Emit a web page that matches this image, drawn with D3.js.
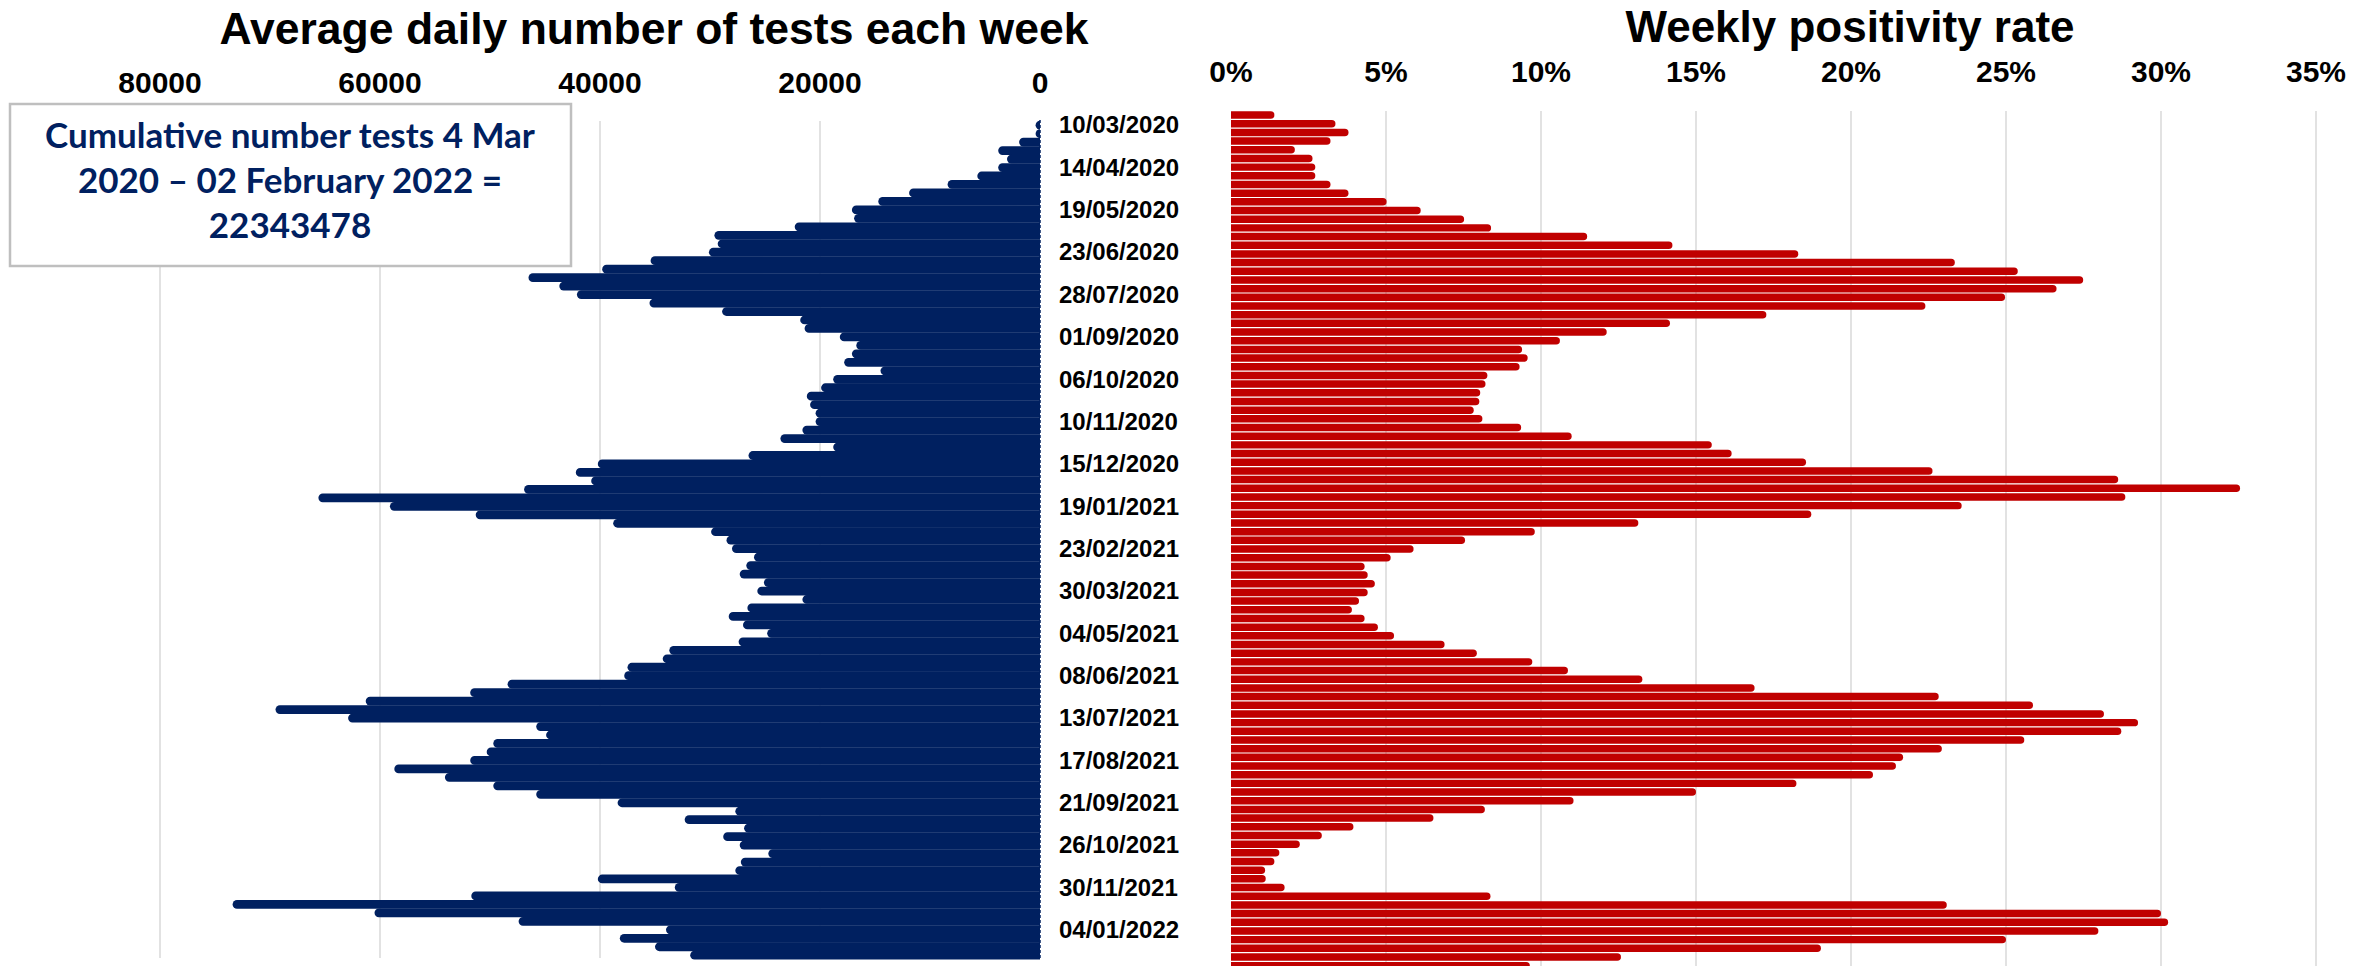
<html>
<script src="https://d3js.org/d3.v7.min.js"></script>
<style>
body { margin: 0; background: #fff; }
text { font-family: "Liberation Sans", Arial, sans-serif; font-weight: bold; }
</style>
<body>
<svg id="chart" width="2377" height="966"></svg>
<script>
// week starting dates (one bar per week)
var weeks = ["10/03/2020","17/03/2020","24/03/2020","31/03/2020","07/04/2020","14/04/2020","21/04/2020","28/04/2020","05/05/2020","12/05/2020",
"19/05/2020","26/05/2020","02/06/2020","09/06/2020","16/06/2020","23/06/2020","30/06/2020","07/07/2020","14/07/2020","21/07/2020",
"28/07/2020","04/08/2020","11/08/2020","18/08/2020","25/08/2020","01/09/2020","08/09/2020","15/09/2020","22/09/2020","29/09/2020",
"06/10/2020","13/10/2020","20/10/2020","27/10/2020","03/11/2020","10/11/2020","17/11/2020","24/11/2020","01/12/2020","08/12/2020",
"15/12/2020","22/12/2020","29/12/2020","05/01/2021","12/01/2021","19/01/2021","26/01/2021","02/02/2021","09/02/2021","16/02/2021",
"23/02/2021","02/03/2021","09/03/2021","16/03/2021","23/03/2021","30/03/2021","06/04/2021","13/04/2021","20/04/2021","27/04/2021",
"04/05/2021","11/05/2021","18/05/2021","25/05/2021","01/06/2021","08/06/2021","15/06/2021","22/06/2021","29/06/2021","06/07/2021",
"13/07/2021","20/07/2021","27/07/2021","03/08/2021","10/08/2021","17/08/2021","24/08/2021","31/08/2021","07/09/2021","14/09/2021",
"21/09/2021","28/09/2021","05/10/2021","12/10/2021","19/10/2021","26/10/2021","02/11/2021","09/11/2021","16/11/2021","23/11/2021",
"30/11/2021","07/12/2021","14/12/2021","21/12/2021","28/12/2021","04/01/2022","11/01/2022","18/01/2022","25/01/2022"];

// average daily tests per week
var tests = [200,400,1900,3800,3000,3800,5700,8400,11900,14700,
17100,16900,22300,29600,29300,30100,35400,39800,46500,43700,
42100,35500,28900,21800,21400,18200,16700,17100,17800,14500,
18800,19900,21200,20900,20400,20400,21600,23600,18800,26500,
40200,42200,40800,46900,65600,59100,51300,38800,29900,28500,
28000,26000,26700,27300,25100,25700,21600,26600,28300,27000,
24800,27400,33700,34300,37500,37800,48400,51800,61300,69500,
62900,45800,44900,49700,50300,51800,58700,54100,49700,45800,
38400,27700,32300,26900,28800,27300,24700,27200,27700,40200,
33200,51700,73400,60500,47400,34000,38200,35000,31800];

// weekly positivity rate, %
var positivity = [1.4,3.37,3.79,3.21,2.06,2.63,2.72,2.72,3.21,3.79,
5.02,6.12,7.52,8.39,11.49,14.24,18.3,23.35,25.38,27.49,
26.63,24.97,22.4,17.27,14.16,12.12,10.61,9.39,9.57,9.31,
8.27,8.21,8.04,8.01,7.83,8.11,9.36,10.99,15.51,16.15,
18.55,22.63,28.62,32.55,28.85,23.57,18.72,13.14,9.8,7.55,
5.89,5.15,4.31,4.41,4.64,4.41,4.13,3.9,4.31,4.74,
5.26,6.89,7.93,9.72,10.87,13.27,16.89,22.83,25.87,28.16,
29.26,28.72,25.59,22.93,21.68,21.45,20.71,18.24,15.0,11.05,
8.19,6.53,3.95,2.93,2.22,1.56,1.4,1.1,1.12,1.73,
8.37,23.09,30.0,30.23,27.98,25.0,19.03,12.58,9.64];

var testTicks = [80000, 60000, 40000, 20000, 0];
var pctTicks = [0, 5, 10, 15, 20, 25, 30, 35];
var boxLines = ["Cumulative number tests 4 Mar", "2020 \u2013 02 February 2022 =", "22343478"];

var navy = "#002060", red = "#C00000", grid = "#d9d9d9";
var svg = d3.select("#chart");

// scales
var xL = d3.scaleLinear().domain([0, 80000]).range([1040, 160]);
var yL = d3.scaleBand().domain(weeks).range([120.8, 959.3]).padding(0);
var xR = d3.scaleLinear().domain([0, 35]).range([1231, 2316]);
var yR = d3.scaleBand().domain(weeks).range([110.7, 970]).padding(0);

/// LEFT PANEL
svg.append("g").selectAll("line").data(testTicks.filter(function(d){return d > 0;})).enter().append("line")
  .attr("x1", function(d){return xL(d);}).attr("x2", function(d){return xL(d);})
  .attr("y1", 121).attr("y2", 958)
  .attr("stroke", grid).attr("stroke-width", 1.5);

svg.append("g").selectAll("text").data(testTicks).enter().append("text")
  .attr("x", function(d){return xL(d);}).attr("y", 93)
  .attr("text-anchor", "middle").style("font-size", "30px")
  .text(function(d){return d;});

svg.append("text").attr("x", 654).attr("y", 44).attr("text-anchor", "middle")
  .style("font-size", "44.5px").text("Average daily number of tests each week");

// bars rounded on the left end
function leftBar(d, i) {
  var y = yL(weeks[i]), h = yL.bandwidth() + 0.3, r = h / 2;
  var x1 = xL(0), s = Math.min(xL(d) + r, x1);
  return "M" + x1 + "," + y + "H" + s + "A" + r + "," + r + " 0 0 0 " + s + "," + (y + h) + "H" + x1 + "Z";
}
svg.append("g").selectAll("path").data(tests).enter().append("path")
  .attr("d", leftBar).attr("fill", navy);

svg.append("line").attr("x1", xL(0)).attr("x2", xL(0)).attr("y1", 120).attr("y2", 959)
  .attr("stroke", navy).attr("stroke-width", 1.5).attr("stroke-dasharray", "3,2");

// week labels, every 5th week
svg.append("g").selectAll("text").data(weeks.filter(function(d, i){return i % 5 == 0;})).enter().append("text")
  .attr("x", 1059).attr("y", function(d){return yL(d) + yL.bandwidth() / 2;})
  .attr("dy", "0.35em").style("font-size", "24px")
  .text(function(d){return d;});

// annotation box
svg.append("rect").attr("x", 10).attr("y", 104).attr("width", 561).attr("height", 162)
  .attr("fill", "#fff").attr("stroke", "#bfbfbf").attr("stroke-width", 2.5);
svg.append("g").selectAll("text").data(boxLines).enter().append("text")
  .attr("x", 290).attr("y", function(d, i){return 148 + i * 45;})
  .attr("text-anchor", "middle").attr("fill", navy)
  .style("font-family", "Lato, 'Open Sans', sans-serif").style("font-size", "35px")
  .text(function(d){return d;});

/// RIGHT PANEL
svg.append("g").selectAll("line").data(pctTicks.filter(function(d){return d > 0;})).enter().append("line")
  .attr("x1", function(d){return xR(d);}).attr("x2", function(d){return xR(d);})
  .attr("y1", 111).attr("y2", 966)
  .attr("stroke", grid).attr("stroke-width", 1.5);

svg.append("g").selectAll("text").data(pctTicks).enter().append("text")
  .attr("x", function(d){return xR(d);}).attr("y", 82)
  .attr("text-anchor", "middle").style("font-size", "30px")
  .text(function(d){return d + "%";});

svg.append("text").attr("x", 1850).attr("y", 42).attr("text-anchor", "middle")
  .style("font-size", "44px").text("Weekly positivity rate");

// bars rounded on the right end
function rightBar(d, i) {
  var y = yR(weeks[i]) + 0.6, h = yR.bandwidth() - 1.2, r = h / 2;
  var x0 = xR(0), e = Math.max(xR(d) - r, x0);
  return "M" + x0 + "," + y + "H" + e + "A" + r + "," + r + " 0 0 1 " + e + "," + (y + h) + "H" + x0 + "Z";
}
svg.append("g").selectAll("path").data(positivity).enter().append("path")
  .attr("d", rightBar).attr("fill", red);
</script>
</body>
</html>
